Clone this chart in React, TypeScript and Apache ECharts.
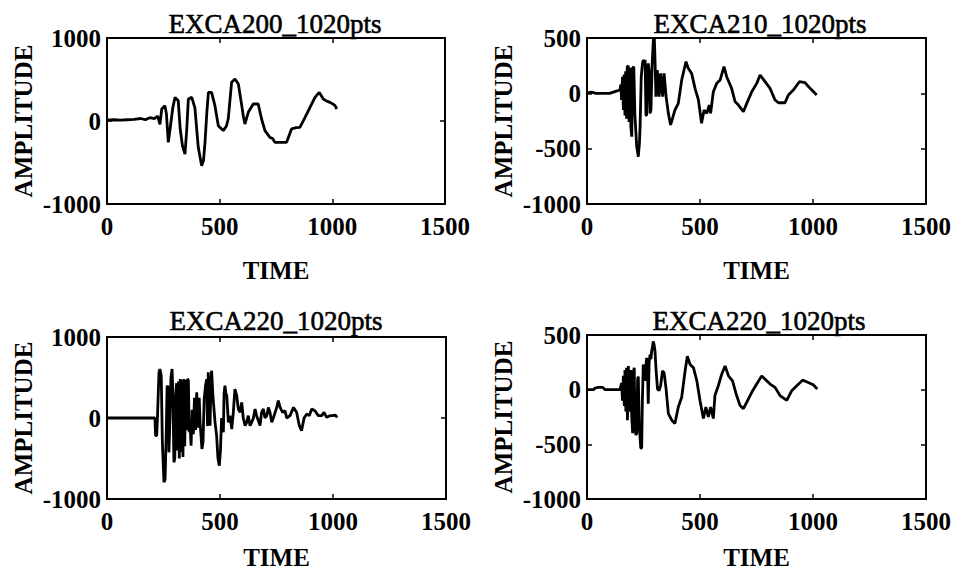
import React, { useEffect, useRef } from "react";
import * as echarts from "echarts";

const TITLES = ["EXCA200_1020pts", "EXCA210_1020pts", "EXCA220_1020pts", "EXCA220_1020pts"];
const X_LABEL = "TIME";
const Y_LABEL = "AMPLITUDE";
const X_MIN = 0;
const X_MAX = 1500;
const X_STEP = 500;
const Y_MINS = [-1000, -1000, -1000, -1000];
const Y_MAXS = [1000, 500, 1000, 500];
const Y_STEPS = [1000, 500, 1000, 500];

// EXCA200 (top left)
const T1 = [0, 30, 60, 90, 120, 150, 170, 190, 210, 225, 235, 243, 257, 264, 272, 280, 292, 302, 316, 325, 335, 346, 354, 361, 376, 390, 405, 420, 428, 435, 443, 450, 464, 479, 494, 516, 530, 538, 553, 568, 583, 598, 605, 612, 627, 649, 671, 686, 701, 723, 735, 745, 770, 797, 819, 840, 856, 879, 901, 923, 942, 960, 975, 990, 1005, 1012, 1020];
const A1 = [10, 15, 10, 15, 20, 30, 15, 40, 30, 60, -40, 145, 185, 80, -257, -96, 160, 285, 245, -100, -300, -398, -100, 265, 285, 160, -317, -538, -480, -257, 100, 345, 345, 185, -56, -116, -60, 24, 466, 506, 446, 185, 60, -36, 105, 205, 205, 24, -116, -197, -210, -257, -257, -257, -96, -80, -76, 44, 165, 285, 345, 265, 240, 225, 200, 185, 145];

// EXCA210 (top right)
const T2 = [0, 20, 40, 100, 130, 146, 150, 153, 157, 161, 164, 168, 171, 175, 178, 183, 186, 190, 194, 198, 202, 207, 212, 220, 227, 232, 235, 240, 245, 249, 253, 257, 261, 264, 268, 271, 275, 279, 283, 288, 294, 298, 301, 305, 311, 319, 326, 330, 335, 341, 350, 360, 370, 389, 404, 419, 438, 448, 463, 478, 493, 507, 518, 530, 541, 547, 559, 574, 589, 606, 618, 640, 655, 670, 692, 707, 729, 751, 766, 788, 810, 832, 847, 876, 891, 913, 940, 965, 987, 1009, 1016];
const A2 = [5, 10, 0, 0, 20, 30, 80, -60, 150, -150, 170, -200, 200, -230, 240, 250, -260, 230, -300, -392, 230, 241, -200, -480, -573, -450, -300, 150, 260, 301, 280, 301, -196, -200, 220, 271, 200, -181, -150, 250, 497, 497, 300, -30, 211, -30, 180, 60, -30, 180, -30, -181, -286, -151, -91, 120, 286, 226, 180, 45, -60, -271, -151, -181, -106, -181, 15, 90, 120, 241, 150, 45, -75, -106, -166, -91, 15, 90, 165, 105, 45, -60, -85, -85, -15, 30, 105, 96, 45, 0, -15];

// EXCA220 (bottom left)
const T3 = [0, 100, 212, 215, 220, 223, 230, 234, 240, 245, 252, 257, 262, 266, 270, 274, 279, 283, 288, 292, 296, 300, 304, 308, 312, 316, 320, 324, 328, 332, 336, 340, 344, 348, 352, 356, 360, 364, 368, 372, 377, 382, 387, 392, 397, 401, 404, 408, 412, 416, 420, 425, 430, 436, 441, 445, 448, 452, 456, 460, 463, 468, 471, 478, 485, 491, 497, 502, 507, 511, 515, 518, 522, 526, 530, 537, 544, 552, 559, 566, 570, 574, 581, 589, 596, 603, 611, 618, 625, 633, 640, 648, 655, 662, 670, 677, 684, 692, 699, 707, 714, 721, 729, 736, 751, 758, 766, 777, 788, 795, 810, 825, 839, 851, 861, 872, 884, 895, 906, 920, 935, 950, 960, 972, 987, 999, 1009, 1019];
const A3 = [0, 0, 0, -218, -218, -12, 560, 605, 520, -300, -794, -760, -200, 399, 380, -424, 29, 500, 605, 250, -547, -500, 276, 430, -400, 450, -500, 481, -420, 470, -480, 481, -350, 470, -150, 481, 470, -177, -100, -342, 100, -200, 250, -150, 317, -120, -12, 250, -60, -218, -383, -300, 234, 400, 480, -100, 564, 200, -95, 450, 584, 300, 193, -50, -218, -500, -589, -400, 0, -50, -177, 300, 399, 300, 276, -54, 29, -136, 70, 358, 317, 276, 111, 70, 193, 0, -95, -54, 29, -95, -54, 0, 111, 29, -33, -95, 70, 111, 0, 29, 131, 70, -54, 0, 131, 214, 131, 70, 90, 0, 29, 131, 70, -95, -156, 0, 49, 29, 111, 90, 29, 29, 70, 8, 29, 29, 37, 8];

// EXCA220 (bottom right)
const T4 = [0, 30, 35, 50, 70, 80, 100, 146, 153, 157, 161, 165, 168, 172, 175, 179, 183, 187, 190, 194, 198, 202, 205, 209, 212, 216, 220, 224, 227, 231, 235, 238, 242, 245, 249, 252, 257, 260, 264, 268, 271, 275, 279, 283, 286, 290, 293, 297, 301, 305, 312, 319, 326, 334, 341, 350, 360, 375, 389, 404, 419, 434, 444, 456, 471, 486, 500, 515, 526, 537, 547, 559, 566, 581, 596, 611, 626, 644, 662, 677, 692, 707, 729, 751, 773, 788, 810, 832, 854, 884, 906, 928, 954, 979, 1001, 1019];
const A4 = [0, 0, 15, 21, 21, 0, 0, 0, 60, -100, 126, -150, 180, -200, 201, -279, 216, -200, -129, 180, -250, -399, 150, 201, -300, -414, -400, 96, 120, -300, -450, -534, -534, -100, 231, 150, 81, 200, 291, 150, -129, 250, 321, 280, 350, 400, 441, 411, 351, 200, 6, -9, 40, 171, 156, 6, -219, -279, -309, -159, -69, 171, 306, 231, 201, 81, -99, -264, -159, -249, -159, -264, -54, 36, 141, 216, 126, 81, -54, -144, -174, -114, -24, 51, 126, 96, 51, 21, -54, -99, -9, 36, 87, 66, 45, 6];

const TIMES = [T1, T2, T3, T4];
const AMPS = [A1, A2, A3, A4];

const GRIDS = [
  { left: 107, top: 38, width: 338, height: 166 },
  { left: 587, top: 38, width: 339, height: 166 },
  { left: 107, top: 337, width: 339, height: 162 },
  { left: 587, top: 335, width: 339, height: 164 },
];
const TITLE_POS = [
  [275, 24],
  [760, 24],
  [276, 321],
  [759, 321],
];

const FONT = "'Liberation Serif', 'Times New Roman', serif";

export default function App() {
  const ref = useRef<HTMLDivElement>(null);
  useEffect(() => {
    if (!ref.current) return;
    const chart = echarts.init(ref.current, undefined, { renderer: "svg" });
    const xAxis: any[] = [];
    const yAxis: any[] = [];
    const series: any[] = [];
    const tickStyle = { show: true, inside: true, length: 5, lineStyle: { color: "#000", width: 1.5 } };
    const lineStyle = { show: true, onZero: false, lineStyle: { color: "#000", width: 2 } };
    const fmt = (v: number) => String(v);
    GRIDS.forEach((g, i) => {
      const bottomRow = i >= 2;
      xAxis.push({
        type: "value",
        gridIndex: i,
        min: X_MIN,
        max: X_MAX,
        interval: X_STEP,
        position: "bottom",
        axisLine: lineStyle,
        axisTick: tickStyle,
        splitLine: { show: false },
        axisLabel: { color: "#000", fontFamily: FONT, fontWeight: "bold", fontSize: 25, margin: 10, formatter: fmt },
        name: X_LABEL,
        nameLocation: "middle",
        nameGap: bottomRow ? 46 : 54,
        nameTextStyle: { color: "#000", fontFamily: FONT, fontWeight: "bold", fontSize: 25 },
      });
      xAxis.push({
        type: "value",
        gridIndex: i,
        min: X_MIN,
        max: X_MAX,
        interval: X_STEP,
        position: "top",
        axisLine: lineStyle,
        axisTick: tickStyle,
        splitLine: { show: false },
        axisLabel: { show: false },
      });
      yAxis.push({
        type: "value",
        gridIndex: i,
        min: Y_MINS[i],
        max: Y_MAXS[i],
        interval: Y_STEPS[i],
        position: "left",
        axisLine: lineStyle,
        axisTick: tickStyle,
        splitLine: { show: false },
        axisLabel: { color: "#000", fontFamily: FONT, fontWeight: "bold", fontSize: 25, margin: 6, formatter: fmt },
        name: Y_LABEL,
        nameLocation: "middle",
        nameGap: 71,
        nameTextStyle: { color: "#000", fontFamily: FONT, fontWeight: "bold", fontSize: 25 },
      });
      yAxis.push({
        type: "value",
        gridIndex: i,
        min: Y_MINS[i],
        max: Y_MAXS[i],
        interval: Y_STEPS[i],
        position: "right",
        axisLine: lineStyle,
        axisTick: tickStyle,
        splitLine: { show: false },
        axisLabel: { show: false },
      });
      series.push({
        type: "line",
        xAxisIndex: 2 * i,
        yAxisIndex: 2 * i,
        showSymbol: false,
        symbol: "none",
        lineStyle: { color: "#000", width: 2.8 },
        data: TIMES[i].map((t, k) => [t, AMPS[i][k]]),
      });
    });
    chart.setOption({
      animation: false,
      backgroundColor: "#fff",
      grid: GRIDS.map((g) => ({ ...g, show: false, containLabel: false })),
      xAxis,
      yAxis,
      series,
      graphic: TITLES.map((t, i) => ({
        type: "text",
        x: TITLE_POS[i][0],
        y: TITLE_POS[i][1],
        style: {
          text: t,
          fill: "#000",
          stroke: "#000",
          lineWidth: 0.6,
          font: `normal 27px ${FONT}`,
          textAlign: "center",
          textVerticalAlign: "middle",
        },
      })),
    });
    return () => chart.dispose();
  }, []);
  return <div ref={ref} style={{ position: "fixed", left: 0, top: 0, width: 958, height: 575 }} />;
}
